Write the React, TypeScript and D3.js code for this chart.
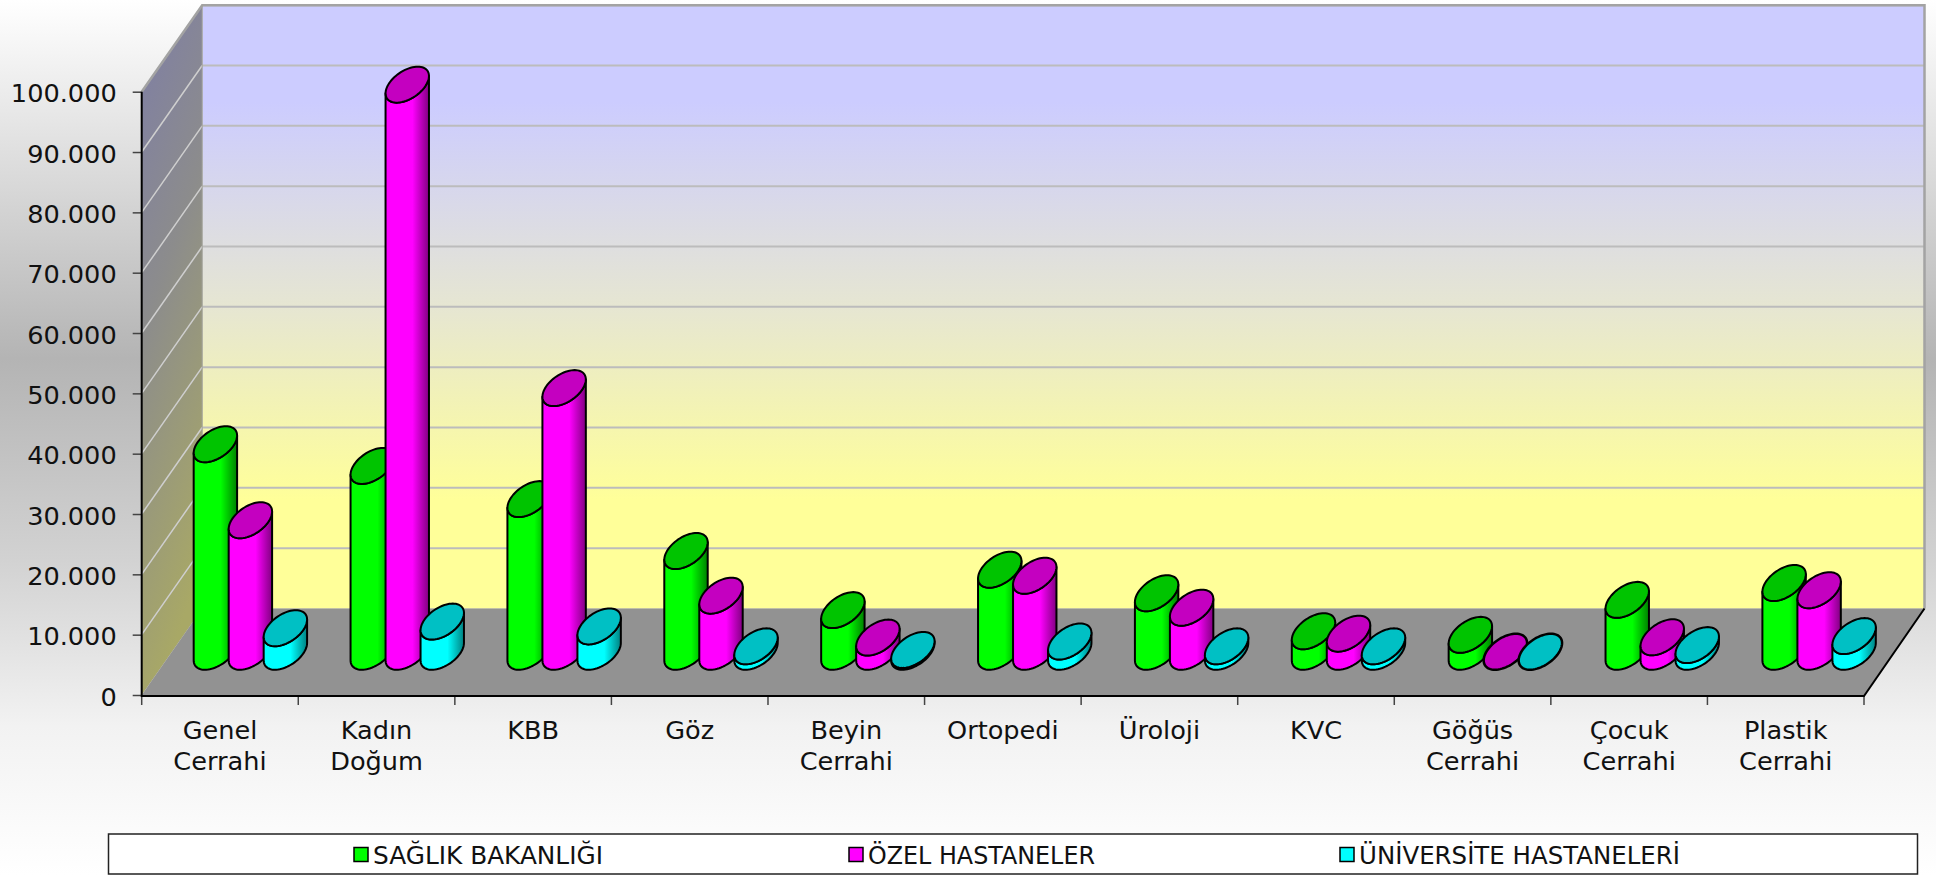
import React, { useEffect, useRef } from 'react';
import * as d3 from 'd3';

const categories = [
  'Genel Cerrahi', 'Kadın Doğum', 'KBB', 'Göz', 'Beyin Cerrahi', 'Ortopedi',
  'Üroloji', 'KVC', 'Göğüs Cerrahi', 'Çocuk Cerrahi', 'Plastik Cerrahi',
];
const seriesNames = ['SAĞLIK BAKANLIĞI', 'ÖZEL HASTANELER', 'ÜNİVERSİTE HASTANELERİ'];
const saglik = [34400, 30800, 25300, 16700, 6900, 13600, 9700, 3400, 2800, 8600, 11400];
const ozel = [21800, 94000, 43700, 9300, 2350, 12600, 7300, 3000, 0, 2400, 10200];
const universite = [3900, 5000, 4200, 900, 300, 1700, 900, 900, 0, 1100, 2600];
const seriesValues = [saglik, ozel, universite];
const bodyColors = ['#00ff00', '#ff00ff', '#00ffff'];
const capColors = ['#00c400', '#c400c0', '#00c0c4'];
const yTicks = d3.range(0, 100001, 10000);

const WIDTH = 1936;
const HEIGHT = 875;
const FONT = '"DejaVu Sans", Verdana, sans-serif';

const plot = { left: 141.7, right: 1864, top: 91.7, bottom: 695 };
const depth = { dx: 60.5, dy: -86.5 };
// top ellipse of a cylinder: half width, and the slanted part along x and y
const capA = 19;
const capSlantX = 10.5;
const capSlantY = -18;

const fmt = d3.formatLocale({ decimal: ',', thousands: '.', grouping: [3], currency: ['', ''] }).format(',d');

export default function App() {
  const svgRef = useRef<SVGSVGElement>(null);

  useEffect(() => {
    const svgElement = svgRef.current;
    if (!svgElement) return;
    const svg = d3.select(svgElement);
    svg.selectAll('*').remove();

    const x = d3.scaleBand<string>().domain(categories).range([plot.left, plot.right]);
    // the groups run slightly wider than the tick spacing
    const xBars = d3.scaleBand<string>().domain(categories).range([plot.left, plot.right + 3.3]);
    const y = d3.scaleLinear().domain([0, 100000]).range([plot.bottom, plot.top]);
    const inner = d3.scaleBand<string>().domain(seriesNames)
      .range([-52.5, 52.5]);
    const tickEdges = [plot.left, ...categories.map(c => (x(c) as number) + x.step())];

    const defs = svg.append('defs');
    const addGradient = (id: string, stops: [number, string][], x2 = '0%', y2 = '100%') => {
      const g = defs.append('linearGradient').attr('id', id)
        .attr('x1', '0%').attr('y1', '0%').attr('x2', x2).attr('y2', y2);
      stops.forEach(([o, c]) => g.append('stop').attr('offset', o).attr('stop-color', c));
    };
    addGradient('page', [[0, '#ffffff'], [0.41, '#b4b4b4'], [0.64, '#d2d2d2'], [0.83, '#f2f2f2'], [1, '#ffffff']]);
    addGradient('wall', [[0, '#ccccff'], [0.16, '#ccccff'], [0.5, '#e6e6d2'], [0.82, '#ffff99'], [1, '#ffff99']]);
    addGradient('side', [[0, '#7e7ea6'], [0.45, '#8c8c8c'], [1, '#a8a866']], '25%', '100%');
    bodyColors.forEach((c, i) => {
      const dark = d3.rgb(c).darker(1.9).formatHex();
      addGradient(`body${i}`, [[0, c], [0.62, c], [1, dark]], '100%', '0%');
    });

    svg.append('rect').attr('width', WIDTH).attr('height', HEIGHT).attr('fill', 'url(#page)');

    // walls and floor
    const backL = plot.left + depth.dx;
    const backR = plot.right + depth.dx;
    const backTop = plot.top + depth.dy;
    const backBottom = plot.bottom + depth.dy;
    const poly = d3.line();
    svg.append('rect').attr('x', backL).attr('y', backTop)
      .attr('width', backR - backL).attr('height', backBottom - backTop)
      .attr('fill', 'url(#wall)');
    svg.append('path')
      .attr('d', poly([[plot.left, plot.top], [backL, backTop], [backL, backBottom], [plot.left, plot.bottom]]) + 'Z')
      .attr('fill', 'url(#side)');
    svg.append('path')
      .attr('d', poly([[plot.left, plot.bottom], [backL, backBottom], [backR, backBottom], [plot.right, plot.bottom]]) + 'Z')
      .attr('fill', '#929292');

    // grid
    const grid = yTicks.slice(1);
    svg.selectAll('.grid-back').data(grid).enter().append('line')
      .attr('x1', backL).attr('x2', backR)
      .attr('y1', d => y(d) + depth.dy).attr('y2', d => y(d) + depth.dy)
      .attr('stroke', '#bcbcbc').attr('stroke-width', 2);
    svg.selectAll('.grid-side').data(yTicks.slice(1, -1)).enter().append('line')
      .attr('x1', plot.left).attr('x2', backL)
      .attr('y1', d => y(d)).attr('y2', d => y(d) + depth.dy)
      .attr('stroke', '#cfcfcf').attr('stroke-width', 1.5);

    // outer edges
    svg.append('path')
      .attr('d', poly([[plot.left, plot.top], [backL, backTop], [backR, backTop], [backR, backBottom]]))
      .attr('fill', 'none').attr('stroke', '#a3a3a3').attr('stroke-width', 2.5);
    svg.append('line').attr('x1', backL).attr('x2', backL).attr('y1', backTop).attr('y2', backBottom)
      .attr('stroke', '#a3a39a').attr('stroke-width', 1);

    // axes
    const yAxis = d3.axisLeft(y).tickValues(yTicks).tickFormat(d => (d === 0 ? '0' : fmt(d as number)))
      .tickSize(9).tickPadding(16);
    const yG = svg.append('g').attr('transform', `translate(${plot.left},0)`).call(yAxis);
    yG.select('.domain').remove();
    yG.selectAll('.tick line').attr('stroke', '#444').attr('stroke-width', 1.5);
    yG.selectAll('.tick text')
      .attr('dy', '0.4em')
      .style('font-family', FONT).style('font-size', '25.6px').style('fill', '#111');

    svg.selectAll('.x-tick').data(tickEdges).enter().append('line')
      .attr('x1', d => d).attr('x2', d => d)
      .attr('y1', plot.bottom).attr('y2', plot.bottom + 10)
      .attr('stroke', '#444').attr('stroke-width', 1.5);
    svg.append('path')
      .attr('d', poly([[plot.left, plot.top], [plot.left, plot.bottom + 1], [plot.right, plot.bottom + 1], [backR, backBottom]]))
      .attr('fill', 'none').attr('stroke', '#000').attr('stroke-width', 2);

    categories.forEach(cat => {
      const words = cat.split(' ');
      const t = svg.append('text')
        .attr('text-anchor', 'middle')
        .style('font-family', FONT).style('font-size', '25.6px').style('fill', '#111');
      words.forEach((w, i) => {
        t.append('tspan')
          .attr('x', (x(cat) as number) + x.bandwidth() / 2)
          .attr('y', 739 + i * 31)
          .text(w);
      });
    });

    // cylinders
    const ts = d3.range(0, 72).map(i => (i / 72) * Math.PI * 2);
    const t0 = Math.atan2(capSlantX, capA);
    const pt = (cx: number, cy: number, t: number): [number, number] => [
      cx + capA * Math.cos(t) + capSlantX * Math.sin(t),
      cy + capSlantY * Math.sin(t),
    ];
    const closed = d3.line().curve(d3.curveLinearClosed);
    categories.forEach((cat, ci) => {
      const groupX = (xBars(cat) as number) + xBars.bandwidth() / 2 + depth.dx / 2;
      seriesNames.forEach((name, si) => {
        const cx = groupX + (inner(name) as number) + inner.bandwidth() / 2;
        const value = seriesValues[si][ci];
        const baseY = plot.bottom + depth.dy / 2;
        const topY = y(value) + depth.dy / 2;
        if (value > 0) {
          // right silhouette point, round the lower half of the base to the left one, then over the top
          const lower = d3.range(0, 37).map(i => pt(cx, baseY, t0 - (i / 36) * Math.PI));
          const upper = d3.range(0, 37).map(i => pt(cx, topY, t0 + Math.PI + (i / 36) * Math.PI));
          svg.append('path')
            .attr('d', closed([...lower, ...upper]))
            .attr('fill', `url(#body${si})`)
            .attr('stroke', '#000').attr('stroke-width', 2).attr('stroke-linejoin', 'round');
        }
        svg.append('path')
          .attr('d', closed(ts.map(t => pt(cx, topY, t))))
          .attr('fill', capColors[si])
          .attr('stroke', '#000').attr('stroke-width', value > 0 ? 2 : 2.5);
      });
    });

    // legend
    svg.append('rect')
      .attr('x', 108.5).attr('y', 834).attr('width', 1809).attr('height', 40)
      .attr('fill', '#fff').attr('stroke', '#222').attr('stroke-width', 1.5);
    const legendX = d3.scaleOrdinal<string, number>().domain(seriesNames).range([354, 849, 1340]);
    const legendTextWidth = d3.scaleOrdinal<string, number>().domain(seriesNames).range([230, 227, 321]);
    seriesNames.forEach((name, i) => {
      const lx = legendX(name);
      svg.append('rect')
        .attr('x', lx).attr('y', 847.5).attr('width', 14).attr('height', 14)
        .attr('fill', bodyColors[i]).attr('stroke', '#000').attr('stroke-width', 1.5);
      svg.append('text')
        .attr('x', lx + 19).attr('y', 863.5)
        .attr('textLength', legendTextWidth(name))
        .attr('lengthAdjust', 'spacingAndGlyphs')
        .style('font-family', FONT).style('font-size', '24.5px').style('fill', '#111')
        .text(name);
    });
  }, []);

  return (
    <svg
      ref={svgRef}
      width={WIDTH}
      height={HEIGHT}
      style={{ position: 'absolute', left: 0, top: 0, display: 'block' }}
    />
  );
}
